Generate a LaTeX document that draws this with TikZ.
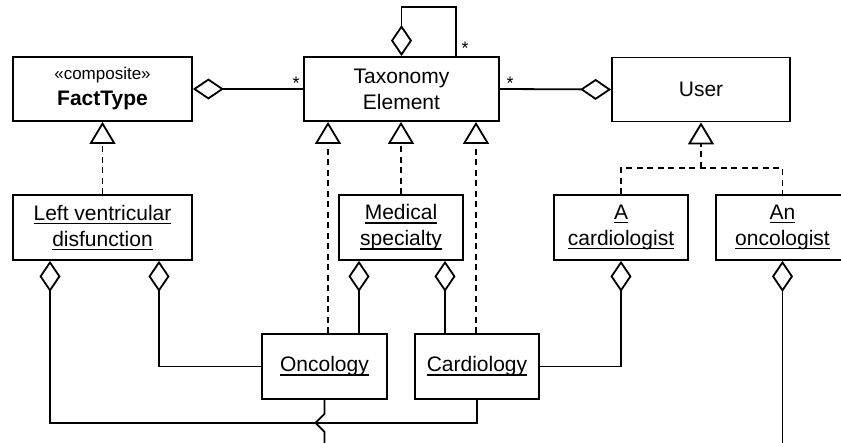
\documentclass[tikz,border=0pt]{standalone}
\usepackage{fontspec}
\setmainfont{Liberation Sans}
\usetikzlibrary{arrows.meta}

% underline at a fixed depth, crossing descenders
\newsavebox\ulbox
\newcommand\ulword[1]{\leavevmode\sbox\ulbox{#1}\rlap{\usebox\ulbox}\rule[-3.6pt]{\wd\ulbox}{1.3pt}}

\begin{document}
\begin{tikzpicture}[x=1pt,y=-1pt,
  line width=1.8pt,
  box/.style={draw, rectangle, inner sep=0pt, align=center,
    font=\fontsize{21}{26}\selectfont},
  aggr/.style={-{Diamond[open,length=31pt,width=21pt,line width=1.8pt]}},
  gen/.style={dash pattern=on 6pt off 4.5pt,
    -{Triangle[open,length=22pt,width=26pt,line width=1.8pt]}},
  real/.style={dash pattern=on 6pt off 4.5pt},
  mult/.style={font=\fontsize{18}{18}\selectfont, inner sep=0pt}]

\useasboundingbox (0,0) rectangle (841,443);
\clip (0,0) rectangle (841,443);

% classes
\node[box, minimum width=179pt, minimum height=64pt] (fact) at (102.5,89)
  {{\fontsize{17}{24}\selectfont «composite»}\\ \textbf{FactType}};
\node[box, minimum width=195pt, minimum height=64pt] (tax) at (401.5,89)
  {Taxonomy\\ Element};
\node[box, minimum width=178pt, minimum height=64pt] (user) at (701,89.5)
  {User};

% instances
\node[box, minimum width=179pt, minimum height=65pt] (lvd) at (102.5,227.5)
  {\ulword{Left ventricular}\\ \ulword{disfunction}};
\node[box, minimum width=124pt, minimum height=65pt] (medspec) at (401,227.5)
  {\ulword{Medical}\\ \ulword{specialty}};
\node[box, minimum width=134pt, minimum height=65pt] (acard) at (621,227.5)
  {\ulword{A}\\ \ulword{cardiologist}};
\node[box, minimum width=133pt, minimum height=65pt] (anonc) at (782.5,227.5)
  {\ulword{An}\\ \ulword{oncologist}};
\node[box, minimum width=125pt, minimum height=65pt] (onc) at (324.5,366.5)
  {\ulword{Oncology}};
\node[box, minimum width=124pt, minimum height=65pt] (card) at (477,366.5)
  {\ulword{Cardiology}};

% helper coordinates
\coordinate (tl) at ([xshift=-73.5pt]tax.south);
\coordinate (tr) at ([xshift=74.5pt]tax.south);
\coordinate (ml) at ([xshift=-42pt]medspec.south);
\coordinate (mr) at ([xshift=44pt]medspec.south);
\coordinate (ll) at ([xshift=-52.5pt]lvd.south);
\coordinate (lr) at ([xshift=56.5pt]lvd.south);
\coordinate (jy) at (0,168);
\coordinate (bottom) at (0,445);
\coordinate (jn) at (user.south |- jy);

% aggregations between classes
\draw[aggr] (tax.west) -- (fact.east);
\node[mult] at (296,83) {*};
\draw[aggr] (tax.east) -- (user.west);
\node[mult] at (510,83) {*};
\draw[aggr] ([xshift=54.5pt]tax.north) -- ++(0,-49) -| (tax.north);
\node[mult] at (465,48) {*};

% generalizations and realizations
\draw[gen] (lvd.north) -- (fact.south);
\draw[gen] (medspec.north) -- (medspec.north |- tax.south);
\draw[gen] (tl |- onc.north) -- (tl);
\draw[gen] (tr |- card.north) -- (tr);
\draw[real] (acard.north) |- (anonc.north |- jy) -- (anonc.north);
\draw[gen] (jn) -- (user.south);

% instance links
\draw[aggr] (ml |- onc.north) -- (ml);
\draw[aggr] (mr |- card.north) -- (mr);
\draw[aggr] (onc.west) -| (lr);
\draw[aggr] (card.south) -- ++(0,23) -| (ll);
\draw (onc.south) -- ++(0,14) -- ++(-9,9) -- ++(9,9) -- (onc.south |- bottom);
\draw[aggr] (card.east) -| (acard.south);
\draw[aggr] (anonc.south |- bottom) -- (anonc.south);

\end{tikzpicture}
\end{document}
